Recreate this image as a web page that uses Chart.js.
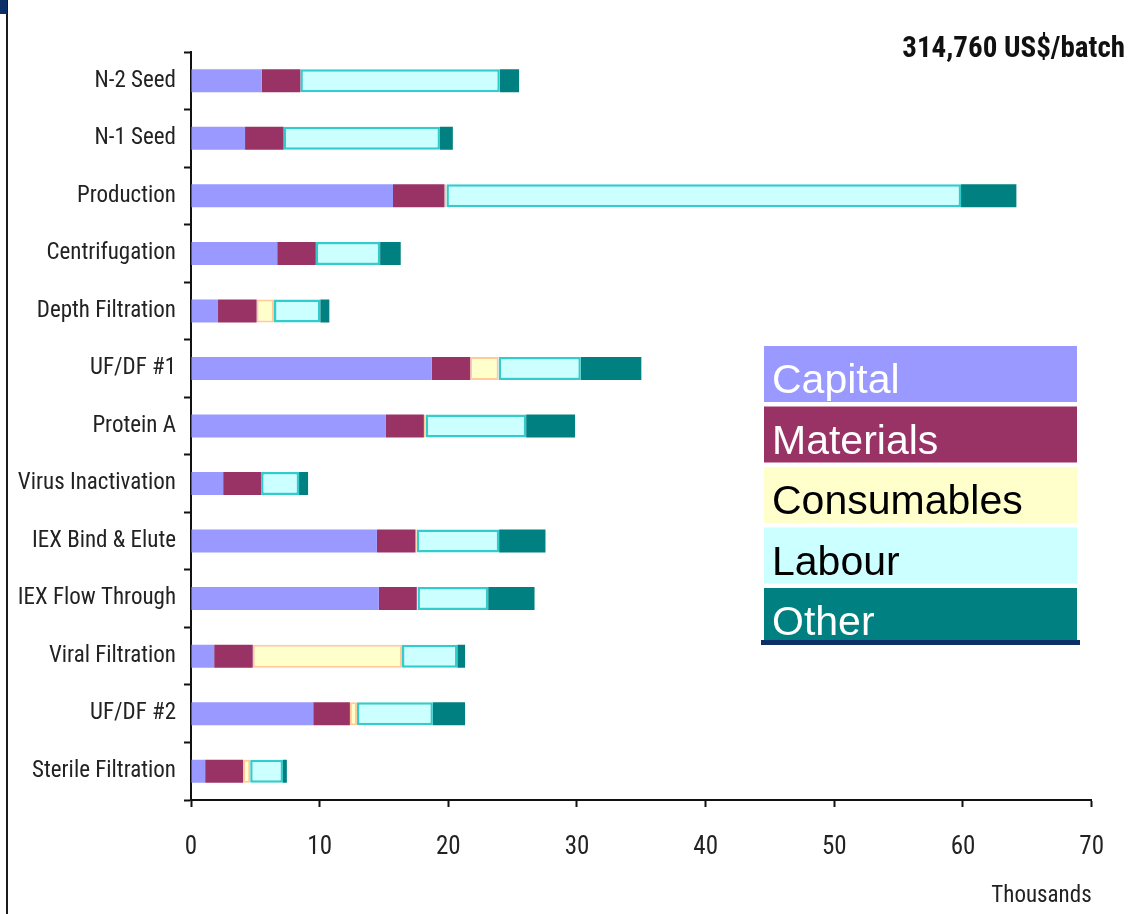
<!DOCTYPE html>
<html>
<head>
<meta charset="utf-8">
<title>Cost per batch</title>
<script src="https://cdn.jsdelivr.net/npm/chart.js@4.4.1/dist/chart.umd.min.js"></script>
<style>
  html, body { margin: 0; padding: 0; background: #fff; }
  #wrap { position: relative; width: 1130px; height: 914px; }
  #edge { position: absolute; left: 6px; top: 0; width: 2px; height: 914px; background: #1b1b1b; }
  #corner { position: absolute; left: 0; top: 0; width: 7px; height: 14px; background: #0b2f66; }
</style>
</head>
<body>
<div id="wrap">
  <canvas id="grafico" width="1130" height="914"></canvas>
  <div id="edge"></div>
  <div id="corner"></div>
</div>
<script>
// steps of the process, top to bottom
const etapas = ["N-2 Seed", "N-1 Seed", "Production", "Centrifugation", "Depth Filtration", "UF/DF #1",
    "Protein A", "Virus Inactivation", "IEX Bind & Elute", "IEX Flow Through", "Viral Filtration",
    "UF/DF #2", "Sterile Filtration"];

// cost per step, thousands US$
const capital = [5.5, 4.2, 15.7, 6.7, 2.1, 18.7, 15.15, 2.5, 14.45, 14.6, 1.8, 9.5, 1.1];
const materials = [3.0, 3.0, 4.0, 3.0, 3.0, 3.0, 2.95, 2.95, 3.0, 2.95, 3.0, 2.85, 2.95];
const consumables = [0, 0, 0.15, 0, 1.35, 2.2, 0.15, 0, 0.1, 0.05, 11.6, 0.55, 0.55];
const labour = [15.5, 12.15, 40.0, 5.0, 3.6, 6.4, 7.8, 2.95, 6.4, 5.5, 4.3, 5.9, 2.55];
const other = [1.5, 1.0, 4.3, 1.6, 0.7, 4.7, 3.8, 0.7, 3.6, 3.6, 0.6, 2.5, 0.3];

const xTicks = [0, 10, 20, 30, 40, 50, 60, 70];
const titulo = "314,760 US$/batch";
const unidad = "Thousands";

const fuenteEstrecha = '"Liberation Sans Narrow", "Arial Narrow", "Roboto Condensed", "DejaVu Sans Condensed", sans-serif';
const textoLeyenda = ["#ffffff", "#ffffff", "#000000", "#000000", "#ffffff"];

// legend drawn as the coloured boxes of the original, plus the title text
const cajaLeyenda = {
    id: "cajaLeyenda",
    afterDraw(chart) {
        const ctx = chart.ctx;
        ctx.save();
        const x = 764, w = 313, h = 56, paso = 60.5;
        let y = 346;
        chart.data.datasets.forEach((ds, i) => {
            ctx.fillStyle = ds.backgroundColor;
            ctx.fillRect(x, y, w, h);
            ctx.fillStyle = textoLeyenda[i];
            ctx.font = '41px "Liberation Sans", Arial, sans-serif';
            ctx.textBaseline = "alphabetic";
            ctx.textAlign = "left";
            ctx.fillText(ds.label, x + 8, y + h - 9);
            y += paso;
        });
        ctx.fillStyle = "#0b2f66";
        ctx.fillRect(761, 640, 319, 5);

        ctx.fillStyle = "#111";
        ctx.font = "bold 29px " + fuenteEstrecha;
        ctx.textAlign = "right";
        ctx.textBaseline = "alphabetic";
        ctx.fillText(titulo, 1125, 57);
        ctx.restore();
    }
};

new Chart("grafico", {
    type: "bar",
    data: {
        labels: etapas,
        datasets: [
            { label: "Capital", data: capital, backgroundColor: "#9999ff", borderWidth: 0 },
            { label: "Materials", data: materials, backgroundColor: "#993366", borderWidth: 0 },
            { label: "Consumables", data: consumables, backgroundColor: "#ffffcc", borderColor: "#ffcc99", borderWidth: 2, borderSkipped: false },
            { label: "Labour", data: labour, backgroundColor: "#ccffff", borderColor: "#33cccc", borderWidth: 2.5, borderSkipped: false },
            { label: "Other", data: other, backgroundColor: "#008080", borderWidth: 0 }
        ]
    },
    options: {
        indexAxis: "y",
        responsive: false,
        animation: false,
        layout: { padding: { left: 0, right: 38, top: 52, bottom: 0 } },
        datasets: { bar: { barPercentage: 0.4, categoryPercentage: 1 } },
        plugins: {
            legend: { display: false },
            tooltip: { enabled: false }
        },
        scales: {
            x: {
                stacked: true,
                min: 0,
                max: 70,
                afterBuildTicks: (s) => { s.ticks = xTicks.map(v => ({ value: v })); },
                afterFit: (s) => { s.height = 114; },
                border: { color: "#111", width: 2 },
                grid: { drawOnChartArea: false, drawTicks: true, tickLength: 7, tickColor: "#111", tickWidth: 2 },
                ticks: { color: "#222", padding: 26, font: { family: fuenteEstrecha, size: 25 } },
                title: {
                    display: true,
                    text: unidad,
                    align: "end",
                    color: "#222",
                    padding: { top: 0, bottom: 4 },
                    font: { family: fuenteEstrecha, size: 23 }
                }
            },
            y: {
                stacked: true,
                afterFit: (s) => { s.width = 191; },
                border: { color: "#111", width: 2 },
                grid: { drawOnChartArea: false, drawTicks: true, tickLength: 7, tickColor: "#111", tickWidth: 2, offset: true },
                ticks: { color: "#222", padding: 8, font: { family: fuenteEstrecha, size: 23 } }
            }
        }
    },
    plugins: [cajaLeyenda]
});
</script>
</body>
</html>
